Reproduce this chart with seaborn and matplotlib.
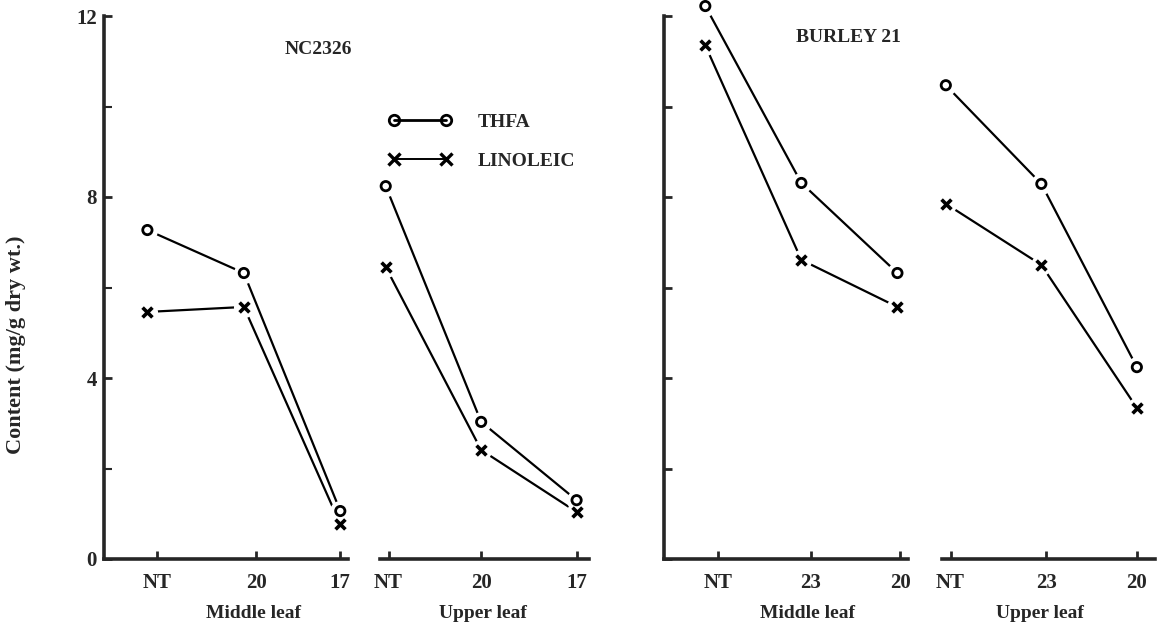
import numpy as np
import pandas as pd
import matplotlib
matplotlib.use("Agg")
import matplotlib.pyplot as plt
import seaborn as sns
from matplotlib.lines import Line2D

# ---- data (mg/g dry wt.) ----
nc_middle_labels = ["NT", "20", "17"]
nc_upper_labels = ["NT", "20", "17"]
bu_middle_labels = ["NT", "23", "20"]
bu_upper_labels = ["NT", "23", "20"]

thfa_nc_middle = [7.27, 6.32, 1.06]
lin_nc_middle = [5.46, 5.57, 0.77]
thfa_nc_upper = [8.24, 3.03, 1.30]
lin_nc_upper = [6.45, 2.41, 1.04]

thfa_bu_middle = [12.22, 8.31, 6.32]
lin_bu_middle = [11.35, 6.61, 5.57]
thfa_bu_upper = [10.47, 8.29, 4.24]
lin_bu_upper = [7.85, 6.50, 3.34]

series_names = ["THFA", "LINOLEIC"]
panel_titles = ["NC2326", "BURLEY 21"]
group_titles = ["Middle leaf", "Upper leaf"]
y_label = "Content (mg/g dry wt.)"

sns.set_theme(style="ticks")
plt.rcParams["font.family"] = ["Liberation Serif", "DejaVu Serif"]
plt.rcParams["font.weight"] = "bold"

fig = plt.figure(figsize=(11.68, 6.33), dpi=100)
W, H = 1168, 633
y_bot = 559
top_val = 12 + 16 / 45.25

def make_ax(x0, x1, xlim):
    ax = fig.add_axes([x0 / W, (H - y_bot) / H, (x1 - x0) / W, y_bot / H])
    ax.set_xlim(*xlim)
    ax.set_ylim(0, top_val)
    return ax

# last element: small horizontal shift of each tick mark relative to its points (style only)
panels = [
    (make_ax(104, 348, (-0.45, 2.08)), nc_middle_labels, thfa_nc_middle, lin_nc_middle, True, "labels", [0.1, 0.13, 0.0]),
    (make_ax(380, 589, (-0.06, 2.13)), nc_upper_labels, thfa_nc_upper, lin_nc_upper, False, None, [0.03, 0.0, 0.0]),
    (make_ax(664, 908, (-0.43, 2.11)), bu_middle_labels, thfa_bu_middle, lin_bu_middle, True, "nolabels", [0.13, 0.1, 0.03]),
    (make_ax(942, 1155, (-0.04, 2.19)), bu_upper_labels, thfa_bu_upper, lin_bu_upper, False, None, [0.05, 0.05, 0.0]),
]

for ax, labels, thfa, lin, has_y, ymode, tshift in panels:
    df = pd.DataFrame({
        "pos": list(range(len(labels))) * 2,
        "value": thfa + lin,
        "series": [series_names[0]] * len(thfa) + [series_names[1]] * len(lin),
    })
    sns.lineplot(data=df, x="pos", y="value", hue="series", palette=["black", "black"],
                 legend=False, sort=False, lw=1.6, ax=ax, zorder=2)
    # white halos to create the gaps around markers
    sns.scatterplot(data=df, x="pos", y="value", color="white", s=230, marker="o",
                    linewidth=0, legend=False, ax=ax, zorder=3, clip_on=False)
    d1 = df[df.series == series_names[0]]
    d2 = df[df.series == series_names[1]]
    sns.scatterplot(data=d1, x="pos", y="value", marker="o", s=45, facecolor="none",
                    edgecolor="black", linewidth=2.0, legend=False, ax=ax, zorder=4, clip_on=False)
    sns.scatterplot(data=d2, x="pos", y="value", marker="x", s=50, color="black",
                    linewidth=2.6, legend=False, ax=ax, zorder=4, clip_on=False)

    ax.set_xlabel("")
    ax.set_ylabel("")
    ax.set_xticks([i + sh for i, sh in zip(range(len(labels)), tshift)])
    ax.set_xticklabels(labels, fontsize=15, fontweight="bold")
    ax.tick_params(axis="x", direction="in", length=6, width=2, pad=10)
    for s in ["top", "right"]:
        ax.spines[s].set_visible(False)
    ax.spines["bottom"].set_linewidth(2.6)
    if has_y:
        ax.spines["left"].set_linewidth(2.6)
        ax.spines["left"].set_bounds(0, 12)
        ax.tick_params(axis="y", direction="in", length=6, width=2, pad=5)
        if ymode == "labels":
            ax.set_yticks([0, 4, 8, 12])
            ax.set_yticklabels(["0", "4", "8", "12"], fontsize=15, fontweight="bold")
            ax.set_yticks([2, 6, 10], minor=True)
            ax.tick_params(axis="y", which="minor", direction="in", length=6, width=1.5)
        else:
            ax.set_yticks([0, 2, 4, 6, 8, 10, 12])
            ax.set_yticklabels([])
    else:
        ax.spines["left"].set_visible(False)
        ax.set_yticks([])
    ax.patch.set_alpha(0)

# panel titles
fig.text(318 / W, 1 - 50 / H, panel_titles[0], ha="center", va="center", fontsize=14, fontweight="bold")
fig.text(848 / W, 1 - 38 / H, panel_titles[1], ha="center", va="center", fontsize=14, fontweight="bold")

# group labels
for xc, t in zip([253, 483, 808, 1040], group_titles * 2):
    fig.text(xc / W, 1 - 613 / H, t, ha="center", va="center", fontsize=14, fontweight="bold")

# y label
fig.text(16 / W, 1 - 345 / H, y_label, rotation=90, ha="center", va="center", fontsize=16, fontweight="bold")

# legend
handles = [
    Line2D([], [], color="black", lw=2.0, marker="o", markersize=7.5, markerfacecolor="none",
           markeredgewidth=2.0),
    Line2D([], [], color="black", lw=1.4, marker="x", markersize=8, markeredgewidth=2.4),
]
fig.legend(handles, series_names, loc="upper left", bbox_to_anchor=(388 / W, 1 - 113 / H),
           numpoints=2, frameon=False, handlelength=3.3, handletextpad=1.3, labelspacing=1.1,
           borderpad=0, borderaxespad=0, prop={"size": 14, "weight": "bold"})

fig.savefig("out.png", dpi=100)
